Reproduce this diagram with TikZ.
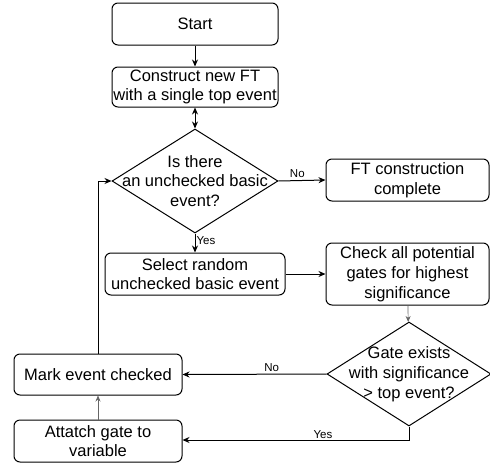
\documentclass[tikz,border=0pt]{standalone}
\usepackage{fontspec}
\setmainfont{Liberation Sans}
\usetikzlibrary{arrows.meta,shapes.geometric}
\begin{document}
\begin{tikzpicture}[x=1pt,y=-1pt,
  box/.style={draw, line width=1pt, rounded corners=6pt, align=center, inner sep=0pt, font=\fontsize{16.5}{19.8}\selectfont},
  dia/.style={draw, diamond, line width=1pt, inner sep=0pt},
  dtext/.style={align=center, inner sep=0pt, font=\fontsize{16.5}{19.8}\selectfont},
  lbl/.style={font=\fontsize{11.5}{13}\selectfont, inner sep=1pt},
  arr/.style={line width=1pt, -{Stealth[length=7pt,width=6pt]}},
  thinarr/.style={line width=0.7pt, draw=black!60, -{Stealth[length=6pt,width=5pt]}}
]
\useasboundingbox (0,0) rectangle (490,464);

\node[box, minimum width=166pt, minimum height=42pt] (start) at (195,24) {Start};
\node[box, minimum width=166pt, minimum height=40pt] (construct) at (195,87) {Construct new FT\\with a single top event};
\node[dia, minimum width=166pt, minimum height=104pt] (d1) at (195,181) {};
\node[dtext] (d1t) at (195,181) {Is there\\an unchecked basic\\event?};
\node[box, minimum width=163pt, minimum height=42pt] (done) at (407.5,180) {FT construction\\complete};
\node[box, minimum width=180pt, minimum height=42pt] (select) at (195,274) {Select random\\unchecked basic event};
\node[box, minimum width=163pt, minimum height=62pt] (check) at (407.5,274) {Check all potential\\gates for highest\\significance};
\node[dia, minimum width=164pt, minimum height=104pt] (d2) at (409,374) {};
\node[dtext] (d2t) at (409,374) {Gate exists\\with significance\\> top event?};
\node[box, minimum width=168pt, minimum height=41pt] (mark) at (98,374.5) {Mark event checked};
\node[box, minimum width=168pt, minimum height=42pt] (attach) at (98,441) {Attatch gate to\\variable};

\coordinate (loopc) at (98,181);
\coordinate (yesc) at (409,440);

\draw[arr] (start) -- (construct);
\draw[line width=1pt, {Stealth[length=7pt,width=6pt]}-{Stealth[length=7pt,width=6pt]}] (construct) -- (d1);
\draw[arr] (d1.east) -- node[lbl, above=1pt, pos=0.4] {No} (done.west);
\draw[arr] (d1.south) -- node[lbl, right, pos=0.35] {Yes} (select.north);
\draw[arr] (select) -- (check);
\draw[thinarr] (check) -- (d2);
\draw[arr] (d2.west) -- node[lbl, above=1pt, pos=0.38] {No} (mark.east);
\draw[arr] (d2.south) -- (yesc) -- node[lbl, above, pos=0.38] {Yes} (attach.east |- yesc);
\draw[thinarr] (attach) -- (mark);
\draw[arr] (mark.north) -- (loopc) -- (d1.west);
\end{tikzpicture}
\end{document}
